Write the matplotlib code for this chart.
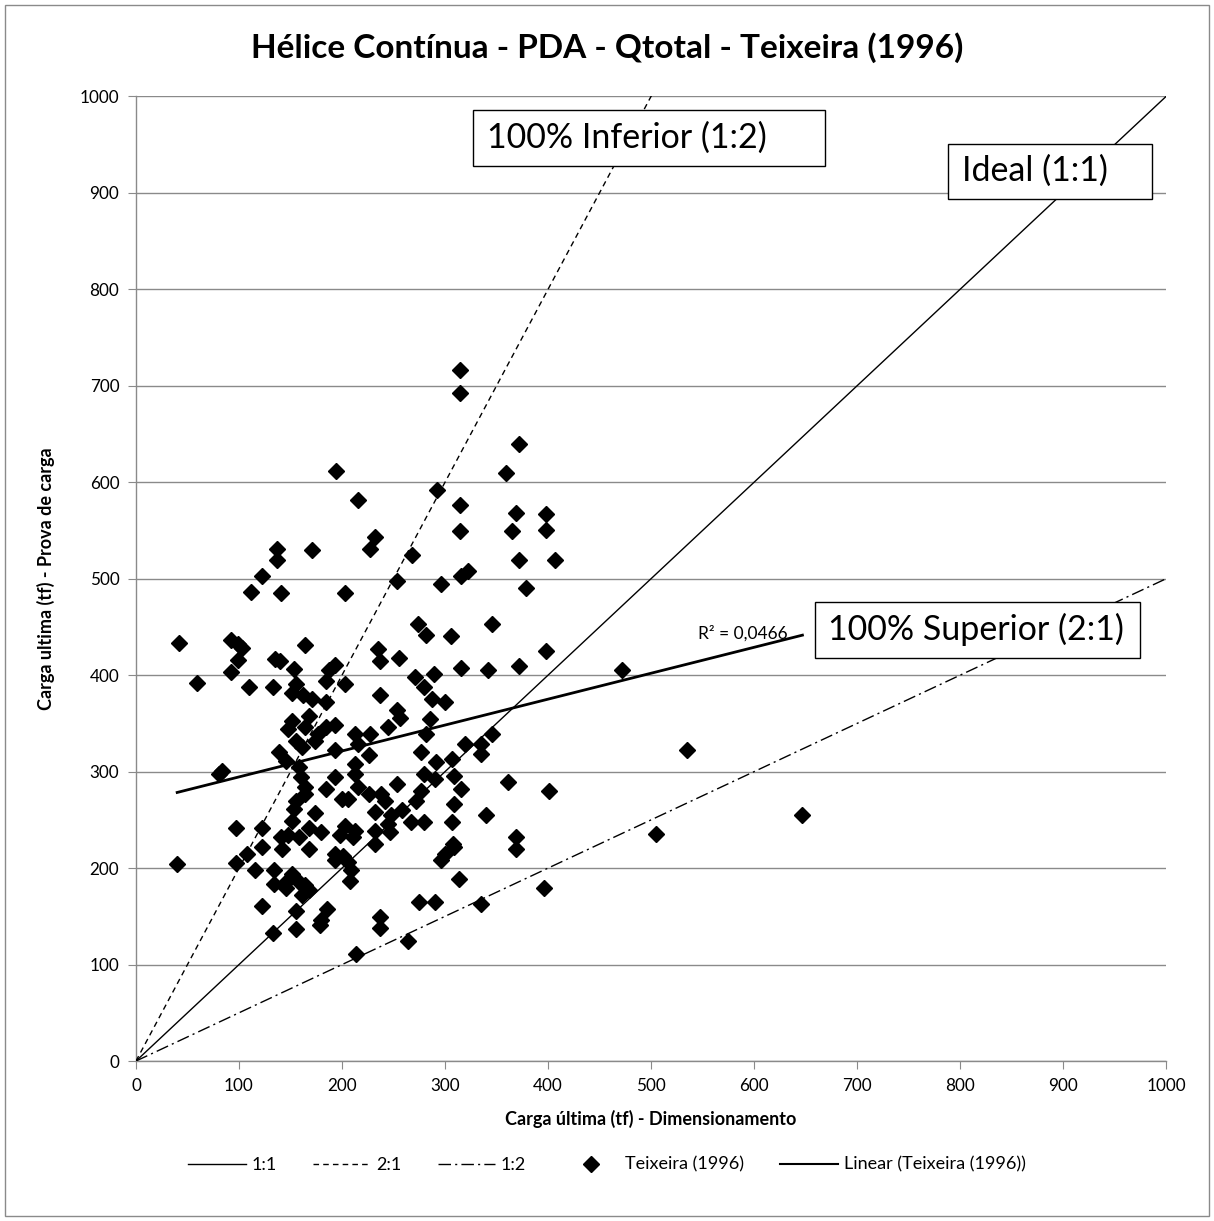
import numpy as np
import matplotlib.pyplot as plt
from matplotlib.lines import Line2D
from matplotlib.patches import Rectangle

plt.rcParams['font.family'] = ['Lato', 'DejaVu Sans']

# carga ultima (tf): dimensionamento (x) vs prova de carga (y)
carga_dim = [194, 216, 232, 227, 137, 137, 171, 268, 315, 315, 372, 359, 292, 315, 369, 398,
             315, 365, 398, 322, 372, 407,
             122, 112, 141, 203, 253, 296, 316, 379,
             42, 92, 99, 103, 99, 92, 59, 110, 133, 135, 140, 153, 164, 203, 187, 193, 184,
             155, 151, 162, 171, 184, 237, 235, 237, 255, 274, 282, 306, 346, 271, 289, 280,
             287, 300, 316, 342, 372, 398, 472,
             253, 256, 245, 285, 282, 227, 213, 216, 151, 148, 168, 164, 177, 184, 193, 155,
             174, 161, 139, 146, 193, 226, 277, 319, 335, 335, 307, 346, 291, 213,
             81, 84, 158, 160, 193, 213, 280, 290, 309, 361, 401, 164, 184, 216, 253, 277, 316,
             164, 200, 226, 238, 242, 206, 272, 309, 155, 153, 174, 232, 248, 258, 267, 280,
             245, 307, 340,
             97, 122, 151, 168, 180, 203, 213, 232, 247, 141, 148, 158, 198, 211, 308, 369,
             232, 122, 168, 142, 369, 108, 193, 201, 300, 309, 296, 40, 97, 193, 206, 209,
             116, 134, 151, 147, 208, 314, 134, 158, 164, 146, 168, 161, 396, 122, 275, 290,
             335, 155, 185, 180, 179, 237, 237, 133, 155, 264, 214, 535, 505, 647]
carga_prova = [612, 582, 543, 531, 531, 519, 530, 525, 716, 693, 640, 610, 592, 576, 568, 567,
               549, 550, 551, 508, 519, 519,
               503, 486, 485, 485, 498, 495, 503, 490,
               433, 436, 432, 428, 416, 403, 392, 388, 388, 417, 415, 406, 431, 391, 405, 411, 394,
               391, 382, 379, 375, 372, 379, 427, 415, 418, 453, 442, 441, 453, 398, 401, 388,
               375, 372, 407, 405, 410, 425, 405,
               364, 356, 346, 355, 339, 339, 339, 329, 353, 344, 358, 346, 339, 346, 348, 332,
               332, 326, 320, 311, 322, 317, 320, 329, 329, 318, 313, 339, 310, 308,
               298, 301, 305, 294, 294, 298, 298, 292, 296, 289, 280, 284, 282, 284, 287, 280, 282,
               277, 272, 277, 277, 270, 272, 270, 267, 270, 261, 257, 258, 255, 260, 248, 248,
               246, 248, 255,
               242, 242, 249, 242, 237, 244, 239, 239, 237, 232, 234, 232, 234, 232, 225, 232,
               225, 222, 220, 220, 220, 215, 215, 213, 215, 222, 208, 204, 205, 208, 206, 198,
               198, 198, 194, 187, 187, 189, 184, 186, 182, 179, 177, 172, 179, 161, 165, 165,
               163, 156, 158, 146, 141, 149, 138, 133, 137, 124, 111, 322, 235, 255]

# linhas de referencia
ref_x = [0, 1000]
ratio_11 = 1.0
ratio_21 = 2.0
ratio_12 = 0.5
r2_text = 'R² = 0,0466'

fig = plt.figure(figsize=(12.14, 12.21), dpi=100)
ax = fig.add_axes([0.112, 0.131, 0.8485, 0.790])

grid_c = '#8a8a8a'
x_ref = np.array(ref_x, dtype=float)
ax.plot(x_ref, x_ref * ratio_11, color='black', lw=1.0, zorder=3)
ax.plot(x_ref, x_ref * ratio_21, color='black', lw=1.0, ls=(0, (4, 3)), zorder=3)
ax.plot(x_ref, x_ref * ratio_12, color='black', lw=1.0, ls=(0, (9, 3, 1.5, 3)), zorder=3)

ax.plot(carga_dim, carga_prova, ls='none', marker='D', ms=7.8, color='black', zorder=4)

# linha de tendencia linear
xd = np.array(carga_dim, dtype=float)
yd = np.array(carga_prova, dtype=float)
a, b = np.polyfit(xd, yd, 1)
xt = np.array([xd.min(), xd.max()])
ax.plot(xt, a * xt + b, color='black', lw=2.0, zorder=5)

ax.set_xlim(0, 1000)
ax.set_ylim(0, 1000)
ax.set_xticks(np.arange(0, 1001, 100))
ax.set_yticks(np.arange(0, 1001, 100))
ax.grid(axis='y', color=grid_c, lw=1.0)
ax.set_axisbelow(True)
for s in ['top', 'right']:
    ax.spines[s].set_visible(False)
for s in ['left', 'bottom']:
    ax.spines[s].set_color(grid_c)
    ax.spines[s].set_linewidth(1.0)
ax.tick_params(axis='both', direction='out', length=6, color=grid_c, labelsize=12.3, pad=6)

ax.set_xlabel('Carga última (tf) - Dimensionamento', fontsize=13, fontweight='bold', labelpad=12)
ax.set_ylabel('Carga ultima (tf) - Prova de carga', fontsize=13, fontweight='bold', labelpad=18)

fig.text(0.5, 0.961, 'Hélice Contínua - PDA - Qtotal - Teixeira (1996)', ha='center', va='center',
         fontsize=24, fontweight='bold')


def caixa(x0, x1, y0, y1, texto, tx):
    ax.add_patch(Rectangle((x0, y0), x1 - x0, y1 - y0, fc='white', ec='black', lw=1.0, zorder=6))
    ax.text(tx, (y0 + y1) / 2, texto, ha='left', va='center', fontsize=24.5, zorder=7)


caixa(327, 669, 928, 986, '100% Inferior (1:2)', 341)
caixa(788, 986, 894, 951, 'Ideal (1:1)', 802)
caixa(659, 975, 418, 476, '100% Superior (2:1)', 672)
ax.text(589, 443, r2_text, ha='center', va='center', fontsize=12.5, zorder=6)

handles = [
    Line2D([], [], color='black', lw=1.0),
    Line2D([], [], color='black', lw=1.0, ls=(0, (4, 3))),
    Line2D([], [], color='black', lw=1.0, ls=(0, (9, 3, 1.5, 3))),
    Line2D([], [], ls='none', marker='D', ms=7.8, color='black'),
    Line2D([], [], color='black', lw=1.5),
]
labels = ['1:1', '2:1', '1:2', 'Teixeira (1996)', 'Linear (Teixeira (1996))']
fig.legend(handles, labels, loc='center', bbox_to_anchor=(0.5, 0.046), ncol=5, frameon=False,
           fontsize=13, handlelength=3.2, columnspacing=2.0, handletextpad=0.3)

fig.patches.append(Rectangle((0.004, 0.004), 0.992, 0.992, transform=fig.transFigure,
                             fill=False, ec='#8a8a8a', lw=1.0))

fig.savefig('out.png', dpi=100)
